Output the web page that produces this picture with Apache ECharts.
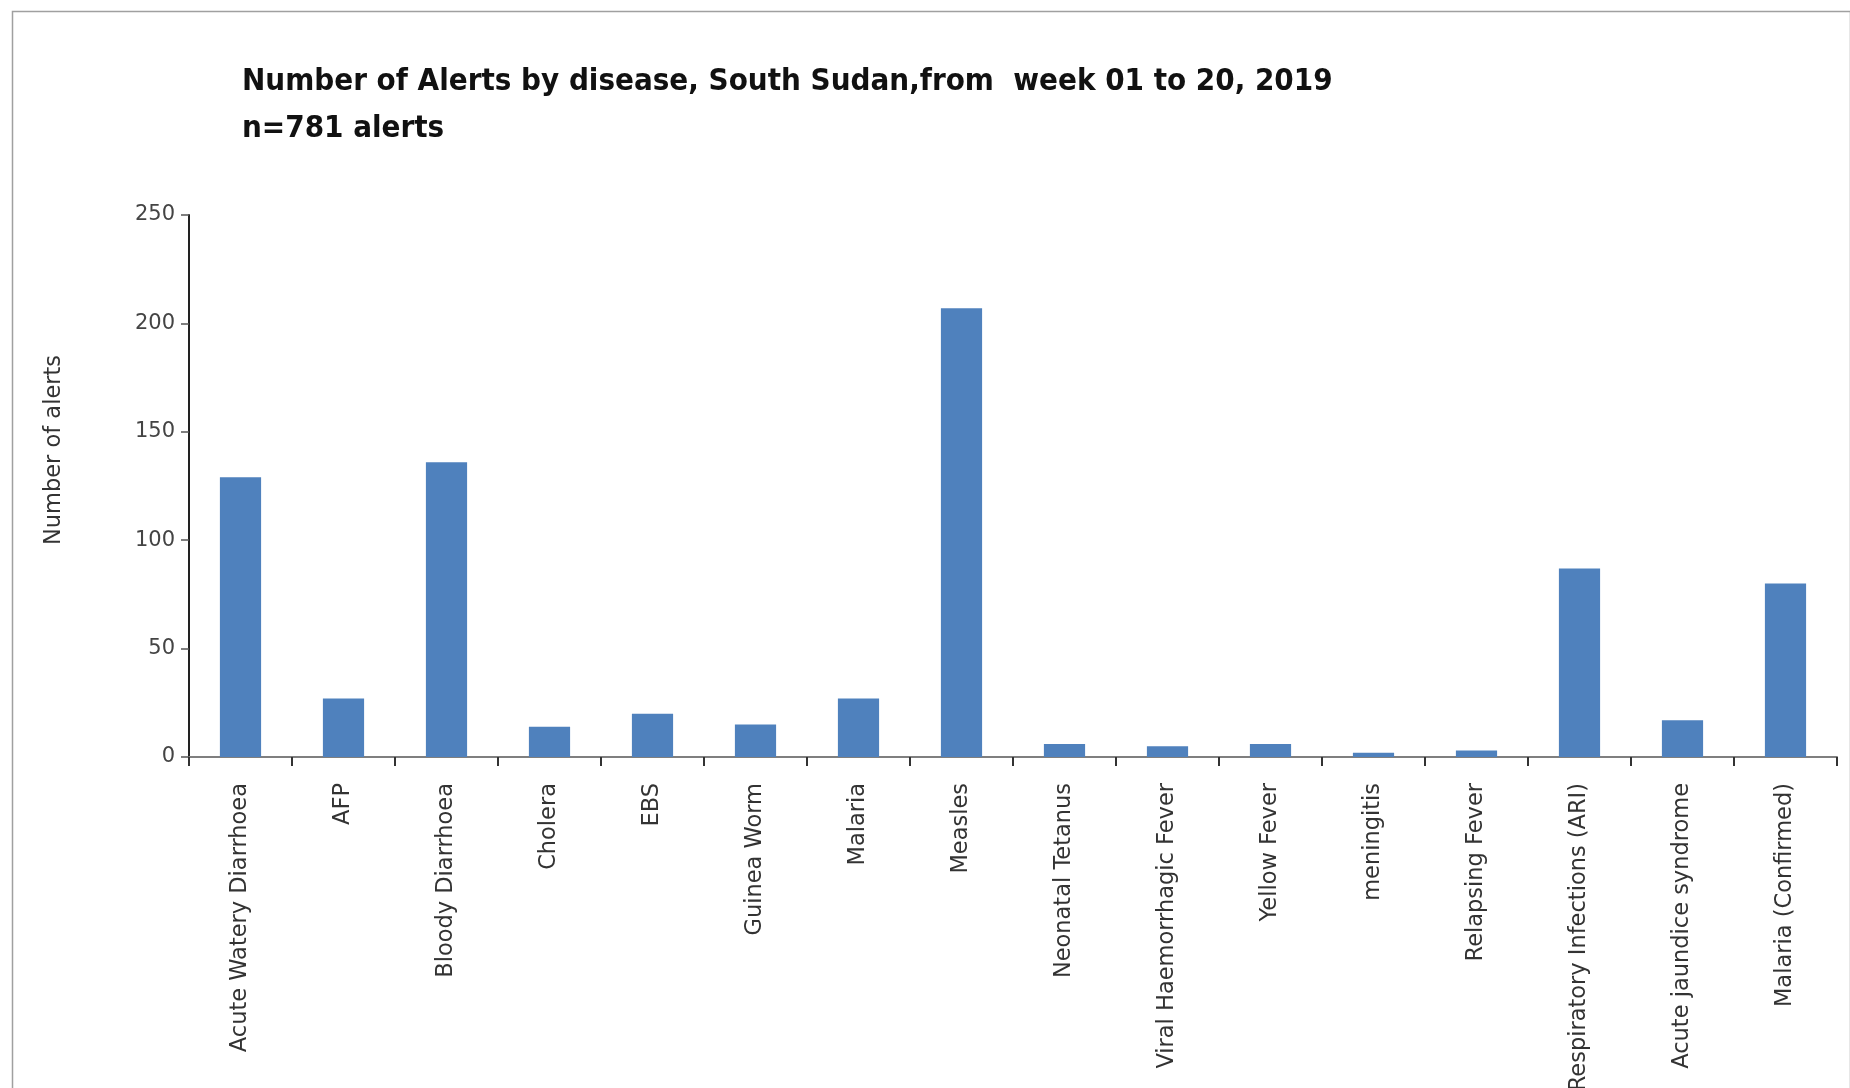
<!DOCTYPE html>
<html>
<head>
<meta charset="utf-8">
<script src="https://cdn.jsdelivr.net/npm/echarts@6/dist/echarts.min.js"></script>
<style>
html,body{margin:0;padding:0;background:#fff;}
#chart{width:1850px;height:1088px;}
</style>
</head>
<body>
<div id="chart"></div>
<script>
var titleLine1 = 'Number of Alerts by disease, South Sudan,from  week 01 to 20, 2019';
var titleLine2 = 'n=781 alerts';
var yAxisName = 'Number of alerts';
var categories = ['Acute Watery Diarrhoea','AFP','Bloody Diarrhoea','Cholera','EBS','Guinea Worm','Malaria','Measles','Neonatal Tetanus','Viral Haemorrhagic Fever','Yellow Fever','meningitis','Relapsing Fever','Respiratory Infections (ARI)','Acute jaundice syndrome','Malaria (Confirmed)'];
var alerts = [129,27,136,14,20,15,27,207,6,5,6,2,3,87,17,80];
var yMin = 0, yMax = 250, yStep = 50;

var chart = echarts.init(document.getElementById('chart'));
var titleFont = '"Liberation Sans Narrow","DejaVu Sans Condensed",sans-serif';
var bodyFont = '"DejaVu Sans",Verdana,sans-serif';
chart.setOption({
  animation: false,
  backgroundColor: '#ffffff',
  graphic: [{
    type: 'rect', left: 10, top: 9, silent: true,
    shape: {width: 1838, height: 1200},
    style: {fill: 'none', stroke: '#a0a0a0', lineWidth: 1.5}
  }, {
    type: 'text', x: 54, y: 450, rotation: Math.PI / 2, silent: true,
    style: {text: yAxisName, align: 'center', verticalAlign: 'middle',
            font: '22.5px ' + bodyFont, fill: '#333'}
  }],
  title: [
    {text: titleLine1, left: 237, top: 61,
     textStyle: {fontFamily: titleFont, fontWeight: 'bold', fontSize: 31, color: '#111'}},
    {text: titleLine2, left: 237, top: 108,
     textStyle: {fontFamily: titleFont, fontWeight: 'bold', fontSize: 31, color: '#111'}}
  ],
  grid: {left: 189, right: 13, top: 215, bottom: 331, containLabel: false, outerBoundsMode: 'none'},
  xAxis: {
    type: 'category', data: categories,
    axisLine: {lineStyle: {color: '#7f7f7f', width: 2}},
    axisTick: {show: true, alignWithLabel: false, length: 9, lineStyle: {color: '#333', width: 2}},
    axisLabel: {interval: 0, rotate: 90, margin: 26, fontFamily: bodyFont, fontSize: 22.5, color: '#333'}
  },
  yAxis: {
    type: 'value', min: yMin, max: yMax, interval: yStep,
    splitLine: {show: false},
    axisLine: {show: true, lineStyle: {color: '#222', width: 2}},
    axisTick: {show: true, length: 8, lineStyle: {color: '#555', width: 1.5}},
    axisLabel: {margin: 14, fontFamily: bodyFont, fontSize: 21, color: '#444'}
  },
  series: [{
    type: 'bar', data: alerts, barWidth: '40%',
    itemStyle: {color: '#4f81bd'}
  }]
});
</script>
</body>
</html>
